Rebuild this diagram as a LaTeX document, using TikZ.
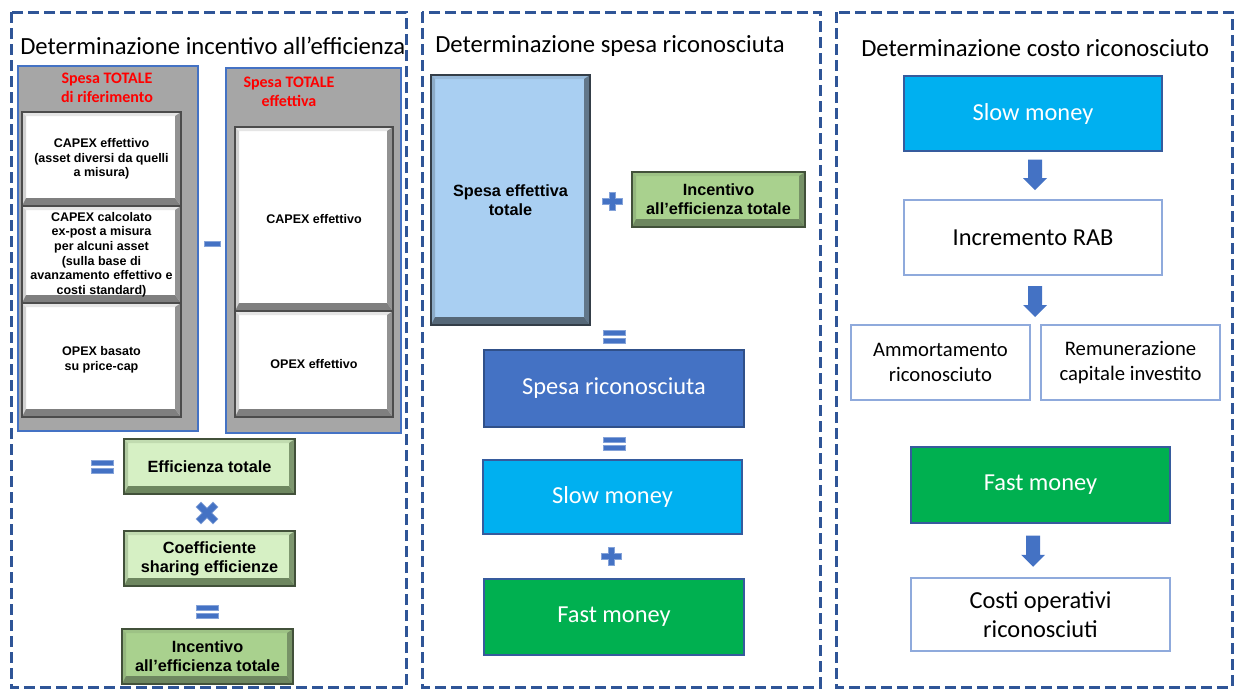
\documentclass[tikz,border=0pt]{standalone}
\usepackage{fontspec}
\setmainfont{Carlito}
\newfontfamily\arialfont{Liberation Sans}
\usetikzlibrary{calc}
\definecolor{panelblue}{HTML}{2F5597}
\definecolor{opblue}{HTML}{4472C4}
\definecolor{boxgray}{HTML}{A6A6A6}
\definecolor{lightgreen}{HTML}{D6F0C4}
\definecolor{midgreen}{HTML}{A9D18E}
\definecolor{greenedge}{HTML}{6E8760}
\definecolor{paleblue}{HTML}{A9CFF2}
\definecolor{slateedge}{HTML}{566878}
\definecolor{whiteedge}{HTML}{7F7F7F}
\definecolor{slowblue}{HTML}{00B0F0}
\definecolor{fastgreen}{HTML}{00B050}
\definecolor{thinblue}{HTML}{8FAADC}
\definecolor{redlabel}{HTML}{FF0000}
\def\pxu{0.75pt}
\tikzset{
  sz/.style 2 args={minimum width=#1*\pxu, minimum height=#2*\pxu, inner sep=0pt},
  panel/.style={draw=panelblue, line width=2.25pt, dash pattern=on 8pt off 4pt},
  paneltitle/.style={anchor=west, inner sep=0pt, font=\fontsize{18.5}{22}\selectfont},
  graybox/.style={draw=opblue, line width=0.8pt, fill=boxgray},
  redlab/.style={text=redlabel, align=center, font=\bfseries\fontsize{12}{14.25}\selectfont},
  bevel/.style 2 args={fill=#1, draw=#2!60!black, line width=1.3pt, align=center,
    font=\arialfont\bfseries\fontsize{12.2}{14.3}\selectfont,
    path picture={
      \coordinate (bsw) at (path picture bounding box.south west);
      \coordinate (bne) at (path picture bounding box.north east);
      \coordinate (bse) at (bsw -| bne);
      \coordinate (bnw) at (bne -| bsw);
      \fill[#1!80!#2] (bnw) -- (bne) -- ($(bne)+(-4.5pt,-3pt)$) -- ($(bnw)+(3pt,-3pt)$) -- cycle;
      \fill[#1!65!#2] (bsw) -- (bnw) -- ($(bnw)+(3pt,-3pt)$) -- ($(bsw)+(3pt,6pt)$) -- cycle;
      \fill[#2!85!#1] (bse) -- (bne) -- ($(bne)+(-4.5pt,-3pt)$) -- ($(bse)+(-4.5pt,6pt)$) -- cycle;
      \fill[#2] (bsw) -- (bse) -- ($(bse)+(-4.5pt,6pt)$) -- ($(bsw)+(3pt,6pt)$) -- cycle;
    }},
  smalltext/.style={font=\arialfont\bfseries\fontsize{9.4}{11}\selectfont},
  flatbox/.style={draw=#1, line width=0.8pt, align=center, font=\fontsize{18.3}{22}\selectfont},
  opsym/.style={fill=opblue, draw=opblue!65!white, line width=0.5pt},
  blockarrow/.style={to path={
    let \p1=(\tikztostart), \p2=(\tikztotarget) in
    (\x1-5.25pt,\y1) -- (\x1+5.25pt,\y1) -- (\x1+5.25pt,\y2+9pt) -- (\x1+9pt,\y2+9pt)
    -- (\x1,\y2) -- (\x1-9pt,\y2+9pt) -- (\x1-5.25pt,\y2+9pt) -- cycle}},
}
\begin{document}
\begin{tikzpicture}[x=0.75pt,y=-0.75pt]
  \useasboundingbox (0,0) rectangle (1240,689);
  % three dashed panels
  \draw[panel] (11,12) rectangle (406,687);
  \draw[panel] (422,12) rectangle (820,687);
  \draw[panel] (836,12) rectangle (1232,687);
  \node[paneltitle] (titleA) at (20,46) {Determinazione incentivo all’efficienza};
  \node[paneltitle] (titleB) at (435,46) {Determinazione spesa riconosciuta};
  \node[paneltitle] (titleC) at (861,48) {Determinazione costo riconosciuto};

  % panel 1: incentive
  \node[graybox, sz={180}{365}] (refbox) at (108,248.5) {};
  \node[graybox, sz={175}{365}] (effbox) at (313.5,250.5) {};
  \node[redlab] (refhead) at (107,88) {Spesa TOTALE\\di riferimento};
  \node[redlab] (effhead) at (289,92) {Spesa TOTALE\\effettiva};
  \node[bevel={white}{whiteedge}, smalltext, sz={159}{94}] (capexA) at (101.5,159)
    {CAPEX effettivo\\(asset diversi da quelli\\a misura)};
  \node[bevel={white}{whiteedge}, smalltext, sz={159}{97}] (capexB) at (101.5,254.5)
    {CAPEX calcolato\\ex-post a misura\\per alcuni asset\\(sulla base di\\avanzamento effettivo e\\costi standard)};
  \node[bevel={white}{whiteedge}, smalltext, sz={159}{114}] (opexA) at (101.5,360)
    {OPEX basato\\su price-cap};
  \node[bevel={white}{whiteedge}, smalltext, sz={158}{184}] (capexE) at (314,219) {CAPEX effettivo};
  \node[bevel={white}{whiteedge}, smalltext, sz={158}{106}] (opexE) at (314,364) {OPEX effettivo};
  \node[bevel={lightgreen}{greenedge}, sz={171}{55}] (effTot) at (209.5,466.5) {Efficienza totale};
  \node[bevel={lightgreen}{greenedge}, sz={171}{55}] (coeff) at (209.5,558.5) {Coefficiente\\sharing efficienze};
  \node[bevel={midgreen}{greenedge}, sz={171}{55}] (incTot) at (207.5,656.5) {Incentivo\\all’efficienza totale};

  % panel 2: recognised spending
  \node[bevel={paleblue}{slateedge}, sz={159}{250}] (spEff) at (510.5,200) {Spesa effettiva\\totale};
  \node[bevel={midgreen}{greenedge}, sz={173}{55}] (incTotB) at (718.5,199.5) {Incentivo\\all’efficienza totale};
  \node[flatbox=opblue!70!black, fill=opblue, text=white, sz={260}{77}] (spRic) at (614,388.5) {Spesa riconosciuta};
  \node[flatbox=opblue!80!black, fill=slowblue, text=white, sz={259}{74}] (slowA) at (612.5,497) {Slow money};
  \node[flatbox=opblue!80!black, fill=fastgreen, text=white, sz={260}{76}] (fastA) at (614,617) {Fast money};

  % panel 3: recognised cost
  \node[flatbox=opblue!80!black, fill=slowblue, text=white, sz={258}{75}] (slowB) at (1033,113.5) {Slow money};
  \node[flatbox=thinblue, sz={258}{75}] (rab) at (1033,237.5) {Incremento RAB};
  \node[flatbox=thinblue, font=\fontsize{15.5}{19}\selectfont, sz={179}{75}] (amm) at (940.5,362.5) {Ammortamento\\riconosciuto};
  \node[flatbox=thinblue, font=\fontsize{15.5}{19}\selectfont, sz={179}{75}] (rem) at (1130.5,362.5) {Remunerazione\\capitale investito};
  \node[flatbox=opblue!80!black, fill=fastgreen, text=white, sz={259}{76}] (fastB) at (1040.5,485) {Fast money};
  \node[flatbox=thinblue, sz={259}{73}] (costi) at (1040.5,614.5) {Costi operativi\\riconosciuti};
  \coordinate (split) at (1035,325);

  % block arrows
  \fill[opblue] ([xshift=1.5pt,yshift=-6pt]slowB.south) to[blockarrow] ([xshift=1.5pt,yshift=7pt]rab.north);
  \fill[opblue] ([xshift=1.5pt,yshift=-8pt]rab.south) to[blockarrow] ([yshift=6pt]split);
  \fill[opblue] ([xshift=-5.5pt,yshift=-9pt]fastB.south) to[blockarrow] ([xshift=-5.5pt,yshift=8pt]costi.north);

  % operator signs
  \fill[opsym] (204,241.5) rectangle (220,246.5);
  \foreach \cx/\cy in {102.5/467, 207/612, 614/337, 614/444}
  {
    \fill[opsym] (\cx-11,\cy-6.5) rectangle (\cx+11,\cy-1.5);
    \fill[opsym] (\cx-11,\cy+1.5) rectangle (\cx+11,\cy+6.5);
  }
  \foreach \cx/\cy/\len in {612/201/10, 611/556/10}
  {
    \fill[opsym] (\cx-\len,\cy-3) -- (\cx-3,\cy-3) -- (\cx-3,\cy-9) -- (\cx+3,\cy-9)
      -- (\cx+3,\cy-3) -- (\cx+\len,\cy-3) -- (\cx+\len,\cy+3) -- (\cx+3,\cy+3) -- (\cx+3,\cy+9)
      -- (\cx-3,\cy+9) -- (\cx-3,\cy+3) -- (\cx-\len,\cy+3) -- cycle;
  }
  \fill[opsym, rotate around={45:(207,513)}] (195,509.5) -- (203.5,509.5) -- (203.5,501) -- (210.5,501)
    -- (210.5,509.5) -- (219,509.5) -- (219,516.5) -- (210.5,516.5) -- (210.5,525)
    -- (203.5,525) -- (203.5,516.5) -- (195,516.5) -- cycle;
\end{tikzpicture}
\end{document}
